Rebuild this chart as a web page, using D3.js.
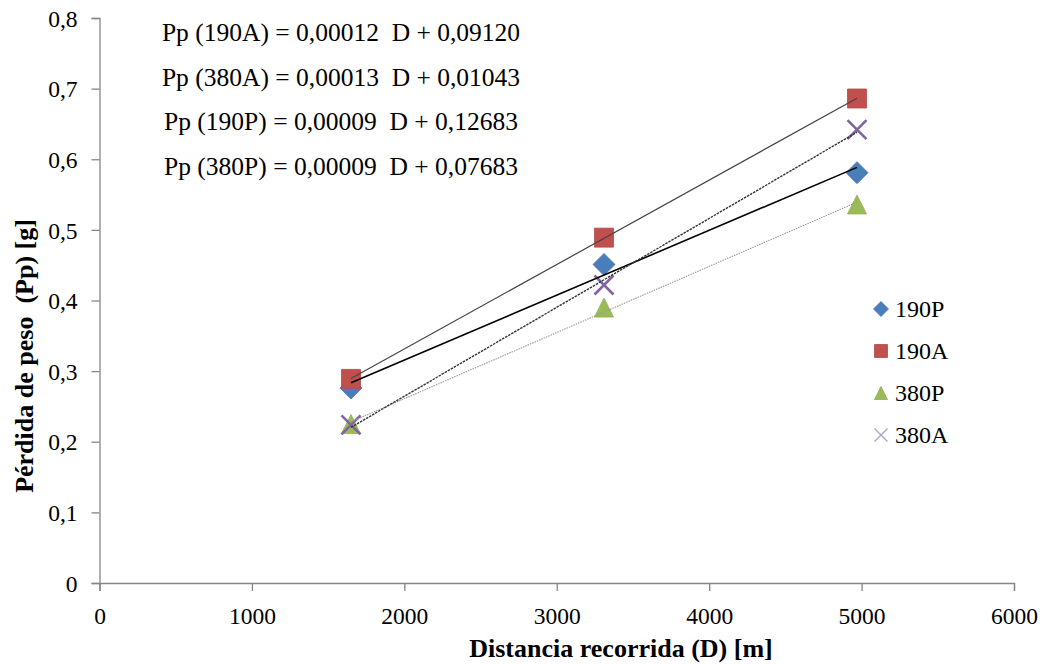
<!DOCTYPE html>
<html>
<head>
<meta charset="utf-8">
<script src="https://cdn.jsdelivr.net/npm/d3@7"></script>
<style>
  body { margin: 0; background: #fff; }
  svg text { font-family: "Liberation Serif", "Times New Roman", serif; fill: #000; white-space: pre; }
</style>
</head>
<body>
<div id="chart"></div>
<script>
var width = 1046, height = 664;
var margin = { top: 18, right: 32, bottom: 81, left: 99.5 };

// distancia recorrida (m)
var distances = [1650, 3310, 4970];
// perdida de peso (g) por serie
var series190P = [0.276, 0.451, 0.581];
var series190A = [0.289, 0.489, 0.686];
var series380P = [0.225, 0.390, 0.536];
var series380A = [0.224, 0.422, 0.642];

var xTicks = [0, 1000, 2000, 3000, 4000, 5000, 6000];
var yTicks = [0, 0.1, 0.2, 0.3, 0.4, 0.5, 0.6, 0.7, 0.8];

var equations = [
    "Pp (190A) = 0,00012  D + 0,09120",
    "Pp (380A) = 0,00013  D + 0,01043",
    "Pp (190P) = 0,00009  D + 0,12683",
    "Pp (380P) = 0,00009  D + 0,07683"
];

var series = [
    { name: "190P", values: series190P, shape: "diamond", color: "#4A7EBB", line: "#000", lw: 1.6, dash: null },
    { name: "190A", values: series190A, shape: "square", color: "#C0504D", line: "#444", lw: 1.2, dash: null },
    { name: "380P", values: series380P, shape: "triangle", color: "#9BBB59", line: "#999", lw: 1.1, dash: "1.5,1" },
    { name: "380A", values: series380A, shape: "cross", color: "#8064A2", line: "#333", lw: 1.4, dash: "2.5,1" }
];

var svg = d3.select("#chart").append("svg")
    .attr("width", width)
    .attr("height", height);

var x = d3.scaleLinear().domain([0, 6000]).range([margin.left, width - margin.right]);
var y = d3.scaleLinear().domain([0, 0.8]).range([height - margin.bottom, margin.top]);

var fmtY = function(d) { return d === 0 ? "0" : d3.format(".1f")(d).replace(".", ","); };

// axes
var xAxis = svg.append("g")
    .attr("transform", "translate(0," + y(0) + ")")
    .call(d3.axisBottom(x).tickValues(xTicks).tickSize(8).tickPadding(12).tickFormat(d3.format("d")));
var yAxis = svg.append("g")
    .attr("transform", "translate(" + x(0) + ",0)")
    .call(d3.axisLeft(y).tickValues(yTicks).tickSize(8).tickPadding(14).tickFormat(fmtY));

[xAxis, yAxis].forEach(function(g) {
    g.select(".domain").attr("stroke", "#868686").attr("stroke-width", 1.3);
    g.selectAll(".tick line").attr("stroke", "#868686").attr("stroke-width", 1.3);
    g.selectAll(".tick text").style("font-family", "Liberation Serif").style("font-size", "23.5px").attr("fill", "#000");
});
xAxis.selectAll(".tick text").attr("dy", "0.9em");
yAxis.selectAll(".tick text").attr("dy", "0.35em");

// axis titles
svg.append("text")
    .attr("x", 621).attr("y", 657)
    .attr("text-anchor", "middle")
    .style("font-size", "26px").style("font-weight", "bold")
    .text("Distancia recorrida (D) [m]");

svg.append("text")
    .attr("transform", "translate(33,356) rotate(-90)")
    .attr("text-anchor", "middle")
    .style("font-size", "26px").style("font-weight", "bold")
    .text("Pérdida de peso  (Pp) [g]");

// marker paths
function markerPath(shape, s) {
    var h = s / 2;
    if (shape === "diamond") return "M0," + (-h) + "L" + h + ",0L0," + h + "L" + (-h) + ",0Z";
    if (shape === "square") return "M" + (-h) + "," + (-h) + "h" + s + "v" + s + "h" + (-s) + "Z";
    if (shape === "triangle") return "M0," + (-h) + "L" + h + "," + h + "L" + (-h) + "," + h + "Z";
    return "M" + (-h) + "," + (-h) + "L" + h + "," + h + "M" + h + "," + (-h) + "L" + (-h) + "," + h;
}

function drawMarker(g, shape, color, s, cx, cy, crossWidth) {
    var p = g.append("path")
        .attr("transform", "translate(" + cx + "," + cy + ")")
        .attr("d", markerPath(shape, s));
    if (shape === "cross") {
        p.attr("fill", "none").attr("stroke", color).attr("stroke-width", crossWidth);
    } else {
        p.attr("fill", color).attr("stroke", d3.color(color).darker(0.2)).attr("stroke-width", 0.8);
    }
}

// markers
var markG = svg.append("g");
series.forEach(function(s) {
    s.values.forEach(function(v, i) {
        var size = s.shape === "diamond" ? 22 : 19;
        drawMarker(markG, s.shape, s.color, size, x(distances[i]), y(v), 2.6);
    });
});

// linear trend lines (least squares over the points)
function fit(xs, ys) {
    var mx = d3.mean(xs), my = d3.mean(ys);
    var num = d3.sum(xs, function(d, i) { return (d - mx) * (ys[i] - my); });
    var den = d3.sum(xs, function(d) { return (d - mx) * (d - mx); });
    var b = num / den;
    return { b: b, a: my - b * mx };
}

var lineG = svg.append("g");
series.forEach(function(s) {
    var f = fit(distances, s.values);
    var ends = [distances[0], distances[distances.length - 1]];
    lineG.append("line")
        .attr("x1", x(ends[0])).attr("y1", y(f.a + f.b * ends[0]))
        .attr("x2", x(ends[1])).attr("y2", y(f.a + f.b * ends[1]))
        .attr("stroke", s.line)
        .attr("stroke-width", s.lw)
        .attr("stroke-dasharray", s.dash);
});

// equations
svg.selectAll(".eq")
    .data(equations)
    .enter().append("text")
    .attr("class", "eq")
    .attr("x", 341)
    .attr("y", function(d, i) { return 41 + i * 44.5; })
    .attr("text-anchor", "middle")
    .style("font-size", "25.5px")
    .text(function(d) { return d; });

// legend
var legend = svg.append("g").attr("transform", "translate(881,309)");
series.forEach(function(s, i) {
    var gy = i * 42;
    var size = s.shape === "diamond" ? 15 : 13;
    drawMarker(legend, s.shape, s.shape === "cross" ? "#B3A2C7" : s.color, size, 0, gy, 1.4);
    legend.append("text")
        .attr("x", 14).attr("y", gy + 8)
        .style("font-size", "24px")
        .text(s.name);
});
</script>
</body>
</html>
